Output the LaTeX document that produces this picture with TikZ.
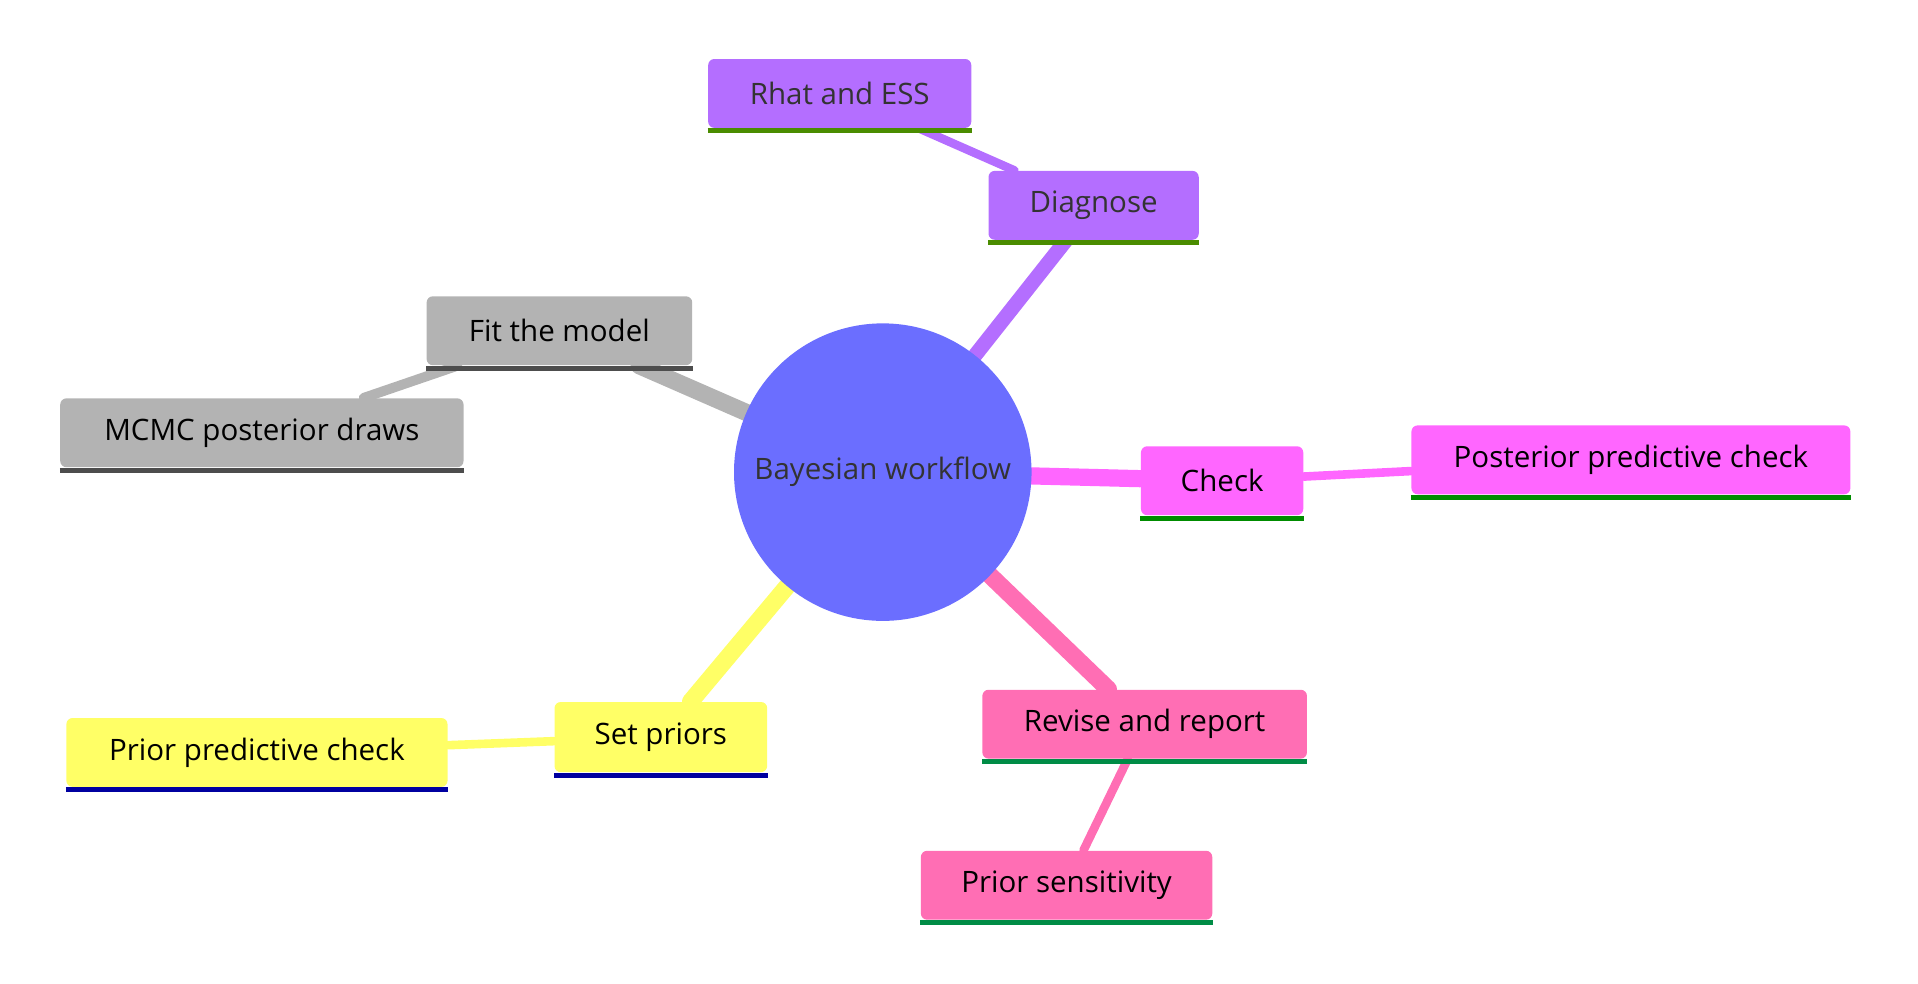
\documentclass[tikz,border=0pt]{standalone}
\usepackage{fontspec}
\setmainfont{Open Sans}
\usetikzlibrary{backgrounds}
\definecolor{cen}{HTML}{6B6EFF}
\definecolor{pur}{HTML}{B46EFF}
\definecolor{gry}{HTML}{B3B3B3}
\definecolor{mag}{HTML}{FF66FF}
\definecolor{yel}{HTML}{FFFF66}
\definecolor{pnk}{HTML}{FF6EB4}
\definecolor{ugrn}{HTML}{4A8C00}
\definecolor{ugry}{HTML}{4D4D4D}
\definecolor{ugr2}{HTML}{008C00}
\definecolor{ublu}{HTML}{0000A0}
\definecolor{upnk}{HTML}{008C46}
\definecolor{txt}{HTML}{333333}
\begin{document}
\begin{tikzpicture}[x=0.5pt,y=-0.5pt,
  box/.style={rounded corners=2.5pt,inner sep=0pt,font=\fontsize{12}{14}\selectfont},
  ul/.style={line width=2pt},
  e/.style={line cap=round}]
\useasboundingbox (0,0) rectangle (1560,800);
\node[circle,fill=cen,minimum size=121pt,inner sep=0pt,text=txt,font=\fontsize{12}{14}\selectfont] (c) at (718,384) {Bayesian workflow};
\node[box,fill=pur,text=txt,minimum width=107pt,minimum height=28pt] (r) at (683,76) {Rhat and ESS};
\node[box,fill=pur,text=txt,minimum width=85.5pt,minimum height=28pt] (d) at (889.5,167) {Diagnose};
\node[box,fill=gry,minimum width=108pt,minimum height=28pt] (f) at (455,269) {Fit the model};
\node[box,fill=gry,minimum width=164pt,minimum height=28pt] (m) at (213,352) {MCMC posterior draws};
\node[box,fill=mag,minimum width=66pt,minimum height=28pt] (k) at (994,391) {Check};
\node[box,fill=mag,minimum width=178.5pt,minimum height=28pt] (p) at (1326.5,374) {Posterior predictive check};
\node[box,fill=yel,minimum width=86.5pt,minimum height=28.5pt] (s) at (537.5,599.5) {Set priors};
\node[box,fill=yel,minimum width=155pt,minimum height=28pt] (q) at (209,612) {Prior predictive check};
\node[box,fill=pnk,minimum width=132pt,minimum height=28pt] (v) at (931,589) {Revise and report};
\node[box,fill=pnk,minimum width=118.5pt,minimum height=28pt] (t) at (867.5,720) {Prior sensitivity};
\foreach \n/\cl in {r/ugrn,d/ugrn,f/ugry,m/ugry,k/ugr2,p/ugr2,s/ublu,q/ublu,v/upnk,t/upnk}{
  \draw[ul,\cl] ([yshift=-1pt]\n.south west) -- ([yshift=-1pt]\n.south east);}
\begin{scope}[on background layer]
\draw[e,pur,line width=6pt] (c) -- (d);
\draw[e,pur,line width=3.5pt] (d) -- (r);
\draw[e,gry,line width=7pt] (c) -- (f);
\draw[e,gry,line width=4pt] (f) -- (m);
\draw[e,mag,line width=7pt] (c) -- (k);
\draw[e,mag,line width=3.5pt] (k) -- (p);
\draw[e,yel,line width=7pt] (c) -- (s);
\draw[e,yel,line width=3.5pt] (s) -- (q);
\draw[e,pnk,line width=7pt] (c) -- (v);
\draw[e,pnk,line width=3.5pt] (v) -- (t);
\end{scope}
\end{tikzpicture}
\end{document}
